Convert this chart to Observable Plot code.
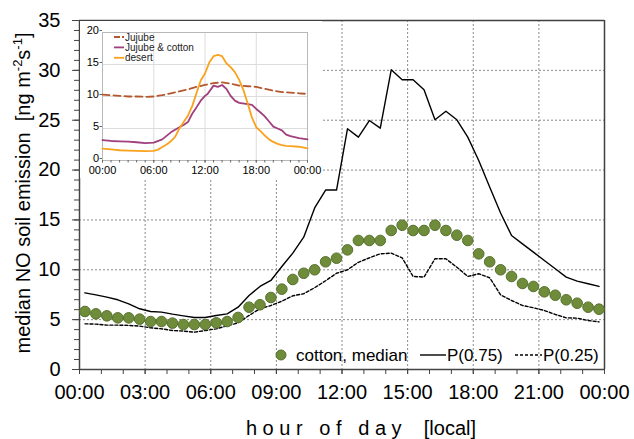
<!DOCTYPE html>
<html><head><meta charset="utf-8">
<script src="https://cdn.jsdelivr.net/npm/d3@7"></script>
<script src="https://cdn.jsdelivr.net/npm/@observablehq/plot@0.6"></script>
<style>
body{margin:0;background:#fff;font-family:"Liberation Sans",Arial,sans-serif;}
#wrap{position:relative;width:634px;height:439px;overflow:hidden;}
#wrap svg{position:absolute;}
</style></head><body><div id="wrap"></div>
<script>
// ---- main chart data (cotton, 30-min bins centred at :15 / :45) ----
const times = d3.range(48).map(i => 0.25 + i * 0.5);
const median = [5.82,5.58,5.38,5.18,5.18,5.05,4.81,4.81,4.65,4.51,4.51,4.51,4.68,4.81,5.22,6.25,6.49,7.22,8.06,9.03,
  9.65,10.0,10.8,11.16,12.0,12.94,12.94,12.94,13.94,14.47,13.94,13.94,14.47,13.94,13.47,12.94,11.6,10.8,10.0,9.33,
  8.63,8.33,7.79,7.45,6.99,6.65,6.25,6.05];
const p75 = [7.69,7.49,7.26,6.99,6.59,6.09,5.82,5.75,5.55,5.38,5.22,5.22,5.42,5.58,6.25,7.42,8.33,8.93,10.33,11.67,
  13.27,16.2,18.0,18.0,24.14,23.3,24.97,24.2,30.06,29.06,29.06,28.05,25.04,25.9,25.04,23.3,20.96,18.3,15.7,13.44,
  12.6,11.77,10.93,10.1,9.26,8.86,8.6,8.33];
const p25 = [4.58,4.55,4.45,4.45,4.42,4.35,4.18,4.08,3.91,3.85,3.74,3.91,4.08,4.38,4.68,5.42,6.09,6.42,6.85,7.39,
  7.6,8.2,8.9,9.65,10.0,10.75,11.2,11.6,11.67,11.2,9.33,9.27,11.1,11.1,10.26,9.33,9.6,9.2,7.49,6.92,
  6.42,6.19,5.92,5.52,5.18,5.15,4.91,4.78];
const xTicks = [0,3,6,9,12,15,18,21,24];
const yTicks = [0,5,10,15,20,25,30,35];

// ---- inset data ----
const jujubeT = [0,1,2,3,4,5,6,7,8,9,10,11,12,13,14,15,16,17,18,19,20,21,22,23,24];
const jujube  = [10.3,10.2,10.1,10.0,10.0,9.95,10.0,10.2,10.5,10.8,11.1,11.5,11.8,12.1,12.2,12.0,11.7,11.6,11.5,11.2,10.9,10.7,10.6,10.5,10.4];
const jcT = [0,1,2,3,4,5,6,7,8,9,9.5,10,10.5,11,11.5,12,12.3,13,13.5,14,14.5,15,15.5,16,17,17.5,18,18.5,19,19.5,20,20.5,21,21.5,22,23,24];
const jc  = [3.2,3.05,3.0,2.95,2.85,2.7,2.8,3.3,4.4,5.2,5.55,6.0,7.3,8.3,9.35,10.1,10.4,11.7,11.5,11.8,11.2,10.1,9.35,9.0,8.8,8.7,8.05,7.5,6.9,6.1,5.3,5.0,4.7,4.05,3.8,3.5,3.3];
const desT = [0,1,2,3,4,5,6,6.5,7,7.5,8,8.5,9,9.5,10,10.5,11,11.5,12,12.5,13,13.5,14,14.5,15,15.5,16,16.5,17,17.5,18,18.5,19,19.5,20,20.5,21,21.5,22,23,24];
const desert = [1.85,1.75,1.6,1.55,1.5,1.45,1.5,1.7,2.1,2.5,3.0,3.7,5.0,6.0,7.0,8.5,10.5,12.5,13.6,15.3,16.3,16.5,16.3,15.2,14.6,13.8,12.6,11.0,8.9,6.7,5.2,4.6,3.9,3.3,2.9,2.6,2.4,2.3,2.25,2.15,1.9];
const insetXTicks = [0,6,12,18,24];
const insetYTicks = [0,5,10,15,20];

const font = "Liberation Sans, Arial, sans-serif";
const fmt = h => String(h % 24).padStart(2, "0") + ":00";
const rows = (t, v) => t.map((x, i) => ({x, y: v[i]}));
const mainMed = rows(times, median), mainP75 = rows(times, p75), mainP25 = rows(times, p25);

const main = Plot.plot({
  width: 634, height: 439,
  marginLeft: 79, marginRight: 30, marginTop: 20, marginBottom: 70,
  x: {domain: [0, 24]}, y: {domain: [0, 35]},
  style: {fontFamily: font, background: "white", color: "black"},
  marks: [
    Plot.ruleX(xTicks.slice(1, -1), {stroke: "#8a8a8a", strokeDasharray: "2,2", strokeWidth: 1}),
    Plot.ruleY(yTicks.slice(1, -1), {stroke: "#8a8a8a", strokeDasharray: "2,2", strokeWidth: 1}),
    Plot.ruleY([35], {stroke: "#404040", strokeWidth: 1.5}),
    Plot.ruleX([24], {stroke: "#404040", strokeWidth: 1.5}),
    Plot.axisX({ticks: d3.range(0, 25), tickSize: 5, tickFormat: () => "", label: null, stroke: "#444"}),
    Plot.axisX({ticks: xTicks, tickSize: 5, tickPadding: 10, tickFormat: fmt, fontSize: 20, label: null, stroke: "#444"}),
    Plot.axisY({ticks: d3.range(0, 36), tickSize: 5, tickFormat: () => "", label: null, stroke: "#444"}),
    Plot.axisY({ticks: yTicks, tickSize: 7, tickPadding: 12, fontSize: 20, label: null, stroke: "#444"}),
    Plot.ruleX([0], {stroke: "#444", strokeWidth: 1.5}),
    Plot.ruleY([0], {stroke: "#444", strokeWidth: 1.5}),
    Plot.line(mainP25, {x: "x", y: "y", stroke: "black", strokeWidth: 1.4, strokeDasharray: "3,2"}),
    Plot.line(mainP75, {x: "x", y: "y", stroke: "black", strokeWidth: 1.4}),
    Plot.dot(mainMed, {x: "x", y: "y", r: 5.3, fill: "#6f8c3a", stroke: "#56712c", strokeWidth: 1})
  ]
});
document.getElementById("wrap").appendChild(main);
main.style.left = "0px"; main.style.top = "0px";

const s = d3.select(main);
// y title with superscripts
const yt = s.append("text").attr("transform", "translate(30,193) rotate(-90)")
  .attr("text-anchor", "middle").attr("font-size", 20).attr("font-family", font).attr("fill", "black")
  .style("white-space", "pre");
yt.append("tspan").text("median NO soil emission  [ng m");
yt.append("tspan").attr("font-size", 13).attr("dy", -8).text("-2");
yt.append("tspan").attr("dy", 8).text("s");
yt.append("tspan").attr("font-size", 13).attr("dy", -8).text("-1");
yt.append("tspan").attr("dy", 8).text("]");
// x title
s.append("text").attr("x", 361).attr("y", 435).attr("text-anchor", "middle").attr("font-size", 20)
  .attr("font-family", font).attr("fill", "black").style("white-space", "pre")
  .text("h o u r   o f   d a y    [local]");
// legend
const lg = s.append("g").attr("font-family", font).attr("font-size", 17).attr("fill", "black").attr("text-anchor", "start");
lg.append("circle").attr("cx", 281).attr("cy", 355).attr("r", 5).attr("fill", "#6f8c3a").attr("stroke", "#56712c");
lg.append("text").attr("x", 296).attr("y", 361).text("cotton, median");
lg.append("line").attr("x1", 420).attr("x2", 446).attr("y1", 355).attr("y2", 355).attr("stroke", "black").attr("stroke-width", 1.4);
lg.append("text").attr("x", 447).attr("y", 361).text("P(0.75)");
lg.append("line").attr("x1", 515).attr("x2", 542).attr("y1", 355).attr("y2", 355).attr("stroke", "black").attr("stroke-width", 1.4).attr("stroke-dasharray", "3,2");
lg.append("text").attr("x", 543).attr("y", 361).text("P(0.25)");

// ---- inset ----
const inset = Plot.plot({
  width: 242, height: 157,
  marginLeft: 22, marginRight: 15, marginTop: 11, marginBottom: 18,
  x: {domain: [0, 24]}, y: {domain: [0, 20]},
  style: {fontFamily: font, background: "white", color: "black"},
  marks: [
    Plot.ruleX([6, 12, 18], {stroke: "#dcdcdc"}),
    Plot.ruleY([5, 10, 15], {stroke: "#dcdcdc"}),
    Plot.frame({stroke: "#b8b8b8"}),
    Plot.axisX({ticks: d3.range(0, 25), tickSize: 2.5, tickFormat: () => "", label: null, stroke: "#666"}),
    Plot.axisX({ticks: insetXTicks, tickSize: 2.5, tickPadding: 3, tickFormat: fmt, fontSize: 11, label: null, stroke: "#666"}),
    Plot.axisY({ticks: insetYTicks, tickSize: 2.5, tickPadding: 1, fontSize: 11, label: null, stroke: "#666", dy: -2}),
    Plot.line(rows(jujubeT, jujube), {x: "x", y: "y", stroke: "#b4572f", strokeWidth: 1.8, strokeDasharray: "7,4"}),
    Plot.line(rows(jcT, jc), {x: "x", y: "y", stroke: "#a13f7c", strokeWidth: 1.8}),
    Plot.line(rows(desT, desert), {x: "x", y: "y", stroke: "#f9a21e", strokeWidth: 1.8})
  ]
});
document.getElementById("wrap").appendChild(inset);
inset.style.left = "80px"; inset.style.top = "21px";
const si = d3.select(inset);
const items = [["Jujube", "#b4572f", "7,4"], ["Jujube & cotton", "#a13f7c", null], ["desert", "#f9a21e", null]];
items.forEach(([name, col, dash], i) => {
  const y = 16 + i * 10.4;
  const l = si.append("line").attr("x1", 34).attr("x2", 44).attr("y1", y).attr("y2", y)
    .attr("stroke", col).attr("stroke-width", 1.8);
  if (dash) l.attr("stroke-dasharray", "6,2");
  si.append("text").attr("x", 45).attr("y", y + 3.5).attr("font-size", 10).attr("font-family", font)
    .attr("text-anchor", "start").attr("fill", "#222").text(name);
});
</script></body></html>
